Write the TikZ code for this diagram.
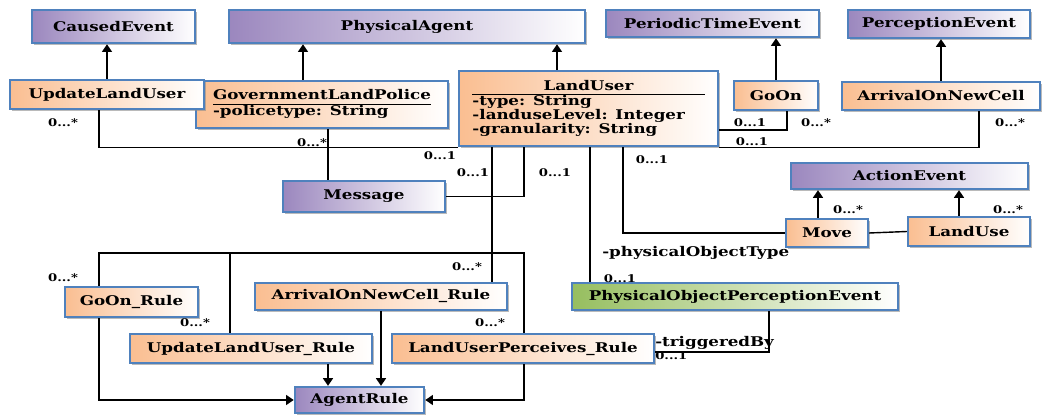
\documentclass[tikz,border=0pt]{standalone}
\usepackage{fontspec}
\setmainfont{DejaVu Serif}[FakeStretch=1.25]
\usetikzlibrary{arrows.meta,shadows}

\definecolor{umlblue}{RGB}{79,129,189}
\definecolor{umlpurple}{RGB}{155,135,190}
\definecolor{umlpeach}{RGB}{250,190,145}
\definecolor{umlgreen}{RGB}{150,190,95}
\setlength{\arrayrulewidth}{0.8pt}

\begin{document}
\begin{tikzpicture}[x=0.025cm,y=-0.025cm,
  every node/.style={font=\fontsize{9.5}{10.5}\selectfont\bfseries},
  cls/.style={draw=umlblue,line width=1.6pt,inner sep=0pt,drop shadow={shadow xshift=1.2pt,shadow yshift=-1.2pt,fill=black!45,opacity=.6}},
  pcls/.style={cls,left color=umlpurple,right color=white},
  ocls/.style={cls,left color=umlpeach,right color=white},
  gcls/.style={cls,left color=umlgreen,right color=white},
  ar/.style={-{Triangle[length=5.5pt,width=7pt]},line width=1.4pt},
  as/.style={line width=1pt},
  ml/.style={font=\fontsize{7.5}{8}\selectfont\bfseries,inner sep=0pt},
  tx/.style={inner sep=0pt}]
\useasboundingbox (0,0) rectangle (1045,419);
% superclasses
\node[pcls,minimum width=4.08cm,minimum height=0.83cm] (caus) at (113.5,26.5) {CausedEvent};
\node[pcls,minimum width=8.9cm,minimum height=0.83cm] (phys) at (407,26.5) {PhysicalAgent};
\node[pcls,minimum width=5.33cm,minimum height=0.68cm] (pte) at (712.5,23.5) {PeriodicTimeEvent};
\node[pcls,minimum width=4.55cm,minimum height=0.7cm] (perc) at (939,24) {PerceptionEvent};
% agents and events
\node[ocls,minimum width=6.3cm,minimum height=1.18cm] (gov) at (322,104.5) {\begin{tabular}{@{}l@{}}GovernmentLandPolice\\\hline -policetype: String\end{tabular}};
\node[ocls,minimum width=4.85cm,minimum height=0.73cm] (upd) at (107,94.5) {UpdateLandUser};
\node[ocls,minimum width=6.48cm,minimum height=1.88cm] (lu) at (588.5,108.5) {\renewcommand{\arraystretch}{0.86}\begin{tabular}{@{}p{5.8cm}@{}}\multicolumn{1}{@{}c@{}}{LandUser}\\\hline -type: String\\-landuseLevel: Integer\\-granularity: String\end{tabular}};
\node[ocls,minimum width=2.1cm,minimum height=0.73cm] (goon) at (776,95.5) {GoOn};
\node[ocls,minimum width=4.95cm,minimum height=0.7cm] (aonc) at (941,96) {ArrivalOnNewCell};
\node[pcls,minimum width=4.05cm,minimum height=0.78cm] (msg) at (364,196.5) {Message};
\node[pcls,minimum width=5.93cm,minimum height=0.65cm] (act) at (909.5,176) {ActionEvent};
\node[ocls,minimum width=2.05cm,minimum height=0.7cm] (move) at (827,233) {Move};
\node[ocls,minimum width=3.05cm,minimum height=0.73cm] (lduse) at (969,231.5) {LandUse};
\node[gcls,minimum width=8.15cm,minimum height=0.68cm] (pope) at (735,296.5) {PhysicalObjectPerceptionEvent};
% rules
\node[ocls,minimum width=3.33cm,minimum height=0.75cm] (goonr) at (131.5,302) {GoOn\_Rule};
\node[ocls,minimum width=6.3cm,minimum height=0.68cm] (aoncr) at (381,296.5) {ArrivalOnNewCell\_Rule};
\node[ocls,minimum width=6.05cm,minimum height=0.73cm] (updr) at (251,348.5) {UpdateLandUser\_Rule};
\node[ocls,minimum width=6.55cm,minimum height=0.73cm] (lupr) at (523,348.5) {LandUserPerceives\_Rule};
\node[pcls,minimum width=3.23cm,minimum height=0.65cm] (agent) at (359.5,400) {AgentRule};
% line positions
\coordinate (xa) at (99,0);
\coordinate (xb) at (328,0);
\coordinate (xc) at (492,0);
\coordinate (xd) at (524,0);
\coordinate (xe) at (590,0);
\coordinate (xf) at (623,0);
\coordinate (xg) at (303,0);
\coordinate (xh) at (557,0);
\coordinate (xi) at (818,0);
\coordinate (xj) at (959,0);
\coordinate (xk) at (787,0);
\coordinate (xl) at (979,0);
\coordinate (xm) at (230,0);
\coordinate (xn) at (769,0);
\coordinate (ya) at (0,130);
\coordinate (yb) at (0,253);
\coordinate (yc) at (0,352);
% generalisations
\draw[ar] (upd.north) -- (upd.north |- caus.south);
\draw[ar] (gov.north -| xg) -- (phys.south -| xg);
\draw[ar] (lu.north -| xh) -- (phys.south -| xh);
\draw[ar] (goon.north) -- (goon.north |- pte.south);
\draw[ar] (aonc.north) -- (aonc.north |- perc.south);
\draw[ar] (move.north -| xi) -- (act.south -| xi);
\draw[ar] (lduse.north -| xj) -- (act.south -| xj);
\draw[ar] (goonr.south -| xa) |- (agent.west);
\draw[ar] (updr.south -| xb) -- (agent.north -| xb);
\draw[ar] (aoncr.south) -- (aoncr.south |- agent.north);
\draw[ar] (lupr.south -| xd) |- (agent.east);
% associations
\draw[as] (upd.south -| xa) |- (lu.south west);
\draw[as] (gov.south -| xb) -- (msg.north -| xb);
\draw[as] (lu.south -| xc) -- (aoncr.north -| xc);
\draw[as] (lu.south -| xd) |- (msg.east);
\draw[as] (lu.south -| xe) -- (pope.north -| xe);
\draw[as] (lu.south -| xf) |- (move.west);
\draw[as] (move.east) -- (lduse.west);
\draw[as] (lu.east |- ya) -| (goon.south -| xk);
\draw[as] (lu.south east) -| (aonc.south -| xl);
\draw[as] (goonr.north -| xa) |- (yb -| xd) -- (lupr.north -| xd);
\draw[as] (updr.north -| xm) -- (yb -| xm);
\draw[as] (lupr.east |- yc) -| (pope.south -| xn);
% multiplicities and roles
\node[ml] (m1) at (63,123) {0...*};
\node[ml] (m2) at (312,143) {0...*};
\node[ml] (m3) at (440,156) {0...1};
\node[ml] (m4) at (473,173) {0...1};
\node[ml] (m5) at (555,173) {0...1};
\node[ml] (m6) at (652,160) {0...1};
\node[ml] (m7) at (750,123) {0...1};
\node[ml] (m8) at (816,123) {0...*};
\node[ml] (m9) at (752,142) {0...1};
\node[ml] (m10) at (1010,123) {0...*};
\node[ml] (m11) at (848,210) {0...*};
\node[ml] (m12) at (1008,210) {0...*};
\node[ml] (m13) at (620,279) {0...1};
\node[ml] (m14) at (467,267) {0...*};
\node[ml] (m15) at (63,278) {0...*};
\node[ml] (m16) at (195,323) {0...*};
\node[ml] (m17) at (490,323) {0...*};
\node[ml,anchor=west] (m18) at (655,356) {0...1};
\node[tx,anchor=west] (r1) at (602,253) {-physicalObjectType};
\node[tx,anchor=west] (r2) at (655,343) {-triggeredBy};
\end{tikzpicture}
\end{document}
